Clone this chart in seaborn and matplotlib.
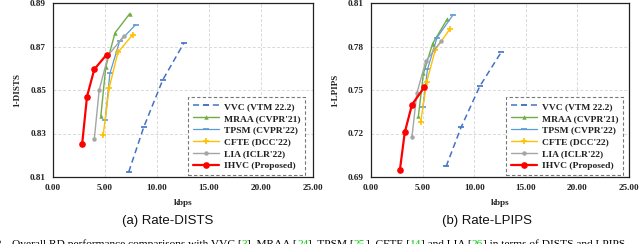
import matplotlib
matplotlib.use("Agg")
import matplotlib.pyplot as plt
import seaborn as sns
import matplotlib.ticker as mticker

# bitrates (kbps) shared by both panels
methods = ["VVC (VTM 22.2)", "MRAA (CVPR'21)", "TPSM (CVPR'22)", "CFTE (DCC'22)", "LIA (ICLR'22)", "IHVC (Proposed)"]
rate_vvc = [7.28, 8.73, 10.55, 12.60]
rate_mraa = [4.60, 5.08, 5.97, 7.38]
rate_tpsm = [5.03, 5.47, 6.40, 7.94]
rate_cfte = [4.82, 5.40, 6.24, 7.68]
rate_lia = [3.97, 4.44, 5.32, 6.82]
rate_ihvc = [2.80, 3.27, 3.97, 5.16]

# 1-DISTS
dists_vvc = [0.8123, 0.8330, 0.8546, 0.8717]
dists_mraa = [0.8380, 0.8607, 0.8763, 0.8851]
dists_tpsm = [0.8363, 0.8576, 0.8723, 0.8800]
dists_cfte = [0.8291, 0.8509, 0.8673, 0.8755]
dists_lia = [0.8274, 0.8500, 0.8660, 0.8749]
dists_ihvc = [0.8250, 0.8470, 0.8595, 0.8663]

# 1-LPIPS
lpips_vvc = [0.6973, 0.7243, 0.7527, 0.7759]
lpips_mraa = [0.7324, 0.7614, 0.7820, 0.7988]
lpips_tpsm = [0.7381, 0.7642, 0.7862, 0.8017]
lpips_cfte = [0.7280, 0.7557, 0.7779, 0.7924]
lpips_lia = [0.7177, 0.7477, 0.7701, 0.7839]
lpips_ihvc = [0.6948, 0.7207, 0.7399, 0.7518]

x_ticks = [0, 5, 10, 15, 20, 25]
dists_ticks = [0.81, 0.83, 0.85, 0.87, 0.89]
lpips_ticks = [0.69, 0.72, 0.75, 0.78, 0.81]

rates = [rate_vvc, rate_mraa, rate_tpsm, rate_cfte, rate_lia, rate_ihvc]
dists = [dists_vvc, dists_mraa, dists_tpsm, dists_cfte, dists_lia, dists_ihvc]
lpips = [lpips_vvc, lpips_mraa, lpips_tpsm, lpips_cfte, lpips_lia, lpips_ihvc]

styles = [
    dict(color="#4472C4", marker="_", ls=(0, (4, 2.5)), lw=1.1, ms=4, mew=1.2),
    dict(color="#70AD47", marker="^", ls="-", lw=1.0, ms=3.2, mew=0),
    dict(color="#5B9BD5", marker="_", ls="-", lw=0.9, ms=4, mew=1.2),
    dict(color="#FFC000", marker="+", ls="-", lw=1.0, ms=3.8, mew=1.2),
    dict(color="#A5A5A5", marker="o", ls="-", lw=1.0, ms=3.2, mew=0),
    dict(color="#FF0000", marker="o", ls="-", lw=1.6, ms=4.8, mew=0),
]

sns.set_theme(style="whitegrid")
serif = "Liberation Serif"
sans = "Liberation Sans"

fig = plt.figure(figsize=(6.4, 2.44), dpi=100)
W, H = 640, 244
ax1 = fig.add_axes([53 / W, (H - 177) / H, 260 / W, 174 / H])
ax2 = fig.add_axes([371 / W, (H - 177) / H, 258 / W, 174 / H])


def draw_panel(ax, ys, yticks, ylabel, caption, cx, leg_right):
    for name, xs, yv, st in zip(methods, rates, ys, styles):
        sns.lineplot(x=xs, y=yv, ax=ax, sort=False, label=name, color=st["color"],
                     marker=st["marker"], linestyle=st["ls"], linewidth=st["lw"],
                     markersize=st["ms"], markeredgewidth=st["mew"],
                     markeredgecolor=st["color"])
    ax.set_xlim(0, 25)
    ax.set_ylim(yticks[0], yticks[-1])
    ax.set_xticks(x_ticks)
    ax.set_yticks(yticks)
    ax.xaxis.set_major_formatter(mticker.FormatStrFormatter("%.2f"))
    ax.yaxis.set_major_formatter(mticker.FormatStrFormatter("%.2f"))
    ax.set_facecolor("white")
    ax.grid(True, color="#d9d9d9", linestyle=(0, (3, 2)), linewidth=0.7)
    for sp in ax.spines.values():
        sp.set_color("#222222")
        sp.set_linewidth(0.9)
    ax.tick_params(length=0, pad=5)
    for lab in ax.get_xticklabels() + ax.get_yticklabels():
        lab.set_fontfamily(serif)
        lab.set_fontweight("bold")
        lab.set_fontsize(6.6)
        lab.set_color("#222222")
    ax.set_xlabel("kbps", fontfamily=serif, fontweight="bold", fontsize=6.6,
                  color="#222222", labelpad=5)
    ax.set_ylabel(ylabel, fontfamily=serif, fontweight="bold", fontsize=6.6,
                  color="#222222", labelpad=6)
    leg = ax.legend(loc="lower right", bbox_to_anchor=(leg_right, 0.011),
                    prop=dict(family=serif, weight="bold", size=6.8),
                    handlelength=2.8, handletextpad=0.5, labelspacing=0.35,
                    borderpad=0.5, borderaxespad=0, fancybox=False, framealpha=1)
    fr = leg.get_frame()
    fr.set_edgecolor("#777777")
    fr.set_linestyle((0, (3, 2)))
    fr.set_linewidth(0.8)
    for t in leg.get_texts():
        t.set_color("#222222")
    fig.text(cx / W, 1 - 221 / H, caption, ha="center", va="center",
             fontfamily=sans, fontsize=9.5, color="#111111")


draw_panel(ax1, dists, dists_ticks, "1-DISTS", "(a) Rate-DISTS", 168, 0.969)
draw_panel(ax2, lpips, lpips_ticks, "1-LPIPS", "(b) Rate-LPIPS", 487, 0.977)

# figure caption line, cut at the bottom edge like the source page
parts = [
    ("Overall RD performance comparisons with VVC [", "black"), ("3", "#00cc00"),
    ("], MRAA [", "black"), ("24", "#00cc00"), ("], TPSM [", "black"), ("25", "#00cc00"),
    ("], CFTE [", "black"), ("14", "#00cc00"), ("] and LIA [", "black"), ("26", "#00cc00"),
    ("] in terms of DISTS and LPIPS.", "black"),
]
fig.canvas.draw()
renderer = fig.canvas.get_renderer()
base_y = 1 - 246.5 / H
fig.text(4 / W, base_y, "Fig. 2.", ha="right", va="baseline",
         fontfamily=serif, fontsize=8.2, color="black")
x = 12
for s, c in parts:
    t = fig.text(x / W, base_y, s, ha="left", va="baseline",
                 fontfamily=serif, fontsize=8.2, color=c)
    x += t.get_window_extent(renderer).width

fig.savefig("out.png", dpi=100)
